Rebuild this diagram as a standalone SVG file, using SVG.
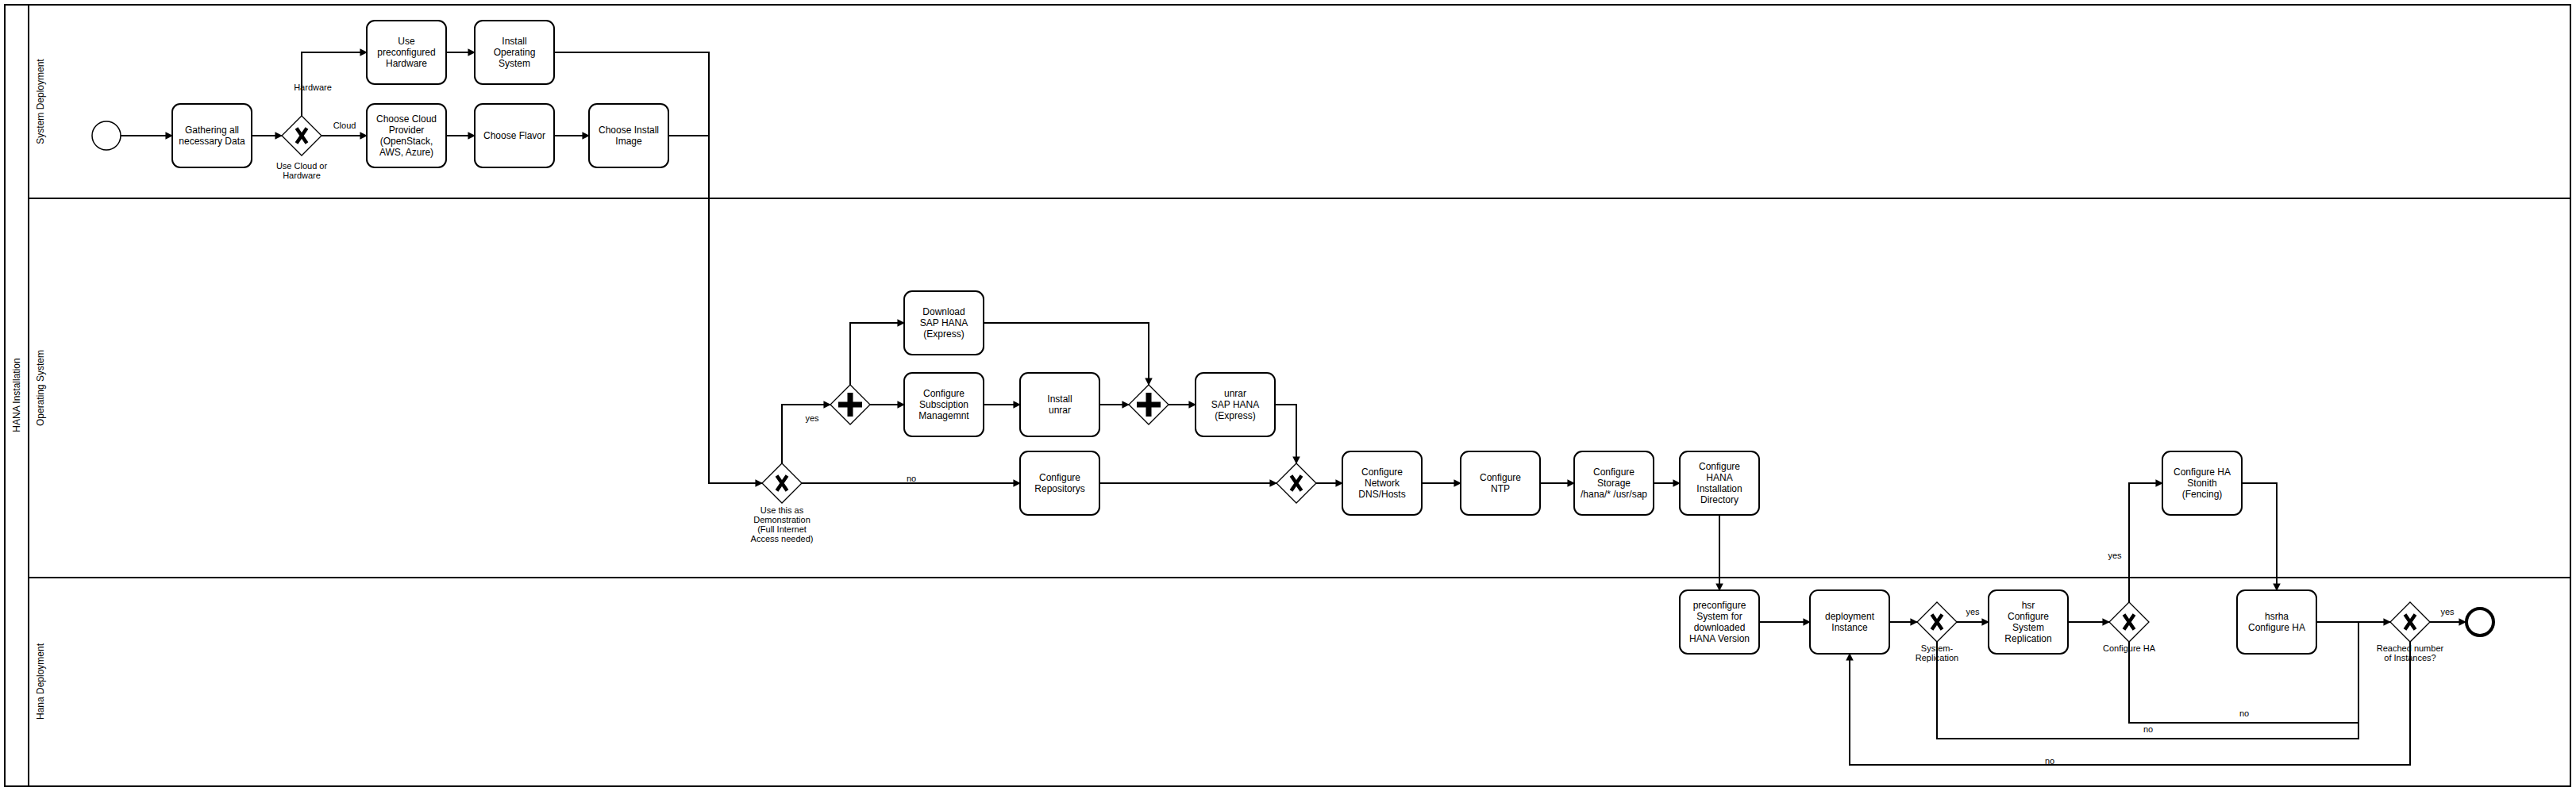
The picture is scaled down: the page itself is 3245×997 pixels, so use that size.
<svg xmlns="http://www.w3.org/2000/svg" width="3245" height="997" viewBox="0 0 3245 997">
<style>
text{font-family:"Liberation Sans",Arial,Helvetica,sans-serif;fill:#000}
.t{font-size:12px;text-anchor:middle}
.l{font-size:11px;text-anchor:middle}
.task{fill:#fff;stroke:#000;stroke-width:2}
.gw{fill:#fff;stroke:#000;stroke-width:1.3}
.edge{fill:none;stroke:#000;stroke-width:2}
.arr{marker-end:url(#arrow)}
.pool{fill:none;stroke:#000;stroke-width:2}
</style>
<defs>
<marker id="arrow" viewBox="0 0 10 10" refX="9" refY="5" markerWidth="10" markerHeight="9.5" markerUnits="userSpaceOnUse" orient="auto">
<path d="M0,0 L10,5 L0,10 z" fill="#000"/>
</marker>
<g id="xmark"><path d="M-6.5,-9.5 L6.5,9.5 M6.5,-9.5 L-6.5,9.5" stroke="#000" stroke-width="4.5" fill="none"/></g>
<g id="plus"><rect x="-15" y="-3.5" width="30" height="7" fill="#000"/><rect x="-3.5" y="-15" width="7" height="30" fill="#000"/></g>
</defs>
<rect width="3245" height="997" fill="#fff"/>

<g id="pool">
<rect class="pool" x="6" y="6" width="3232" height="985"/>
<line class="pool" x1="36" y1="6" x2="36" y2="991"/>
<line class="pool" x1="36" y1="250" x2="3238" y2="250"/>
<line class="pool" x1="36" y1="728" x2="3238" y2="728"/>
<text class="t" transform="translate(21,498) rotate(-90)" y="4">HANA Installation</text>
<text class="t" transform="translate(51,128) rotate(-90)" y="4">System Deployment</text>
<text class="t" transform="translate(51,489) rotate(-90)" y="4">Operating System</text>
<text class="t" transform="translate(51,859) rotate(-90)" y="4">Hana Deployment</text>
</g>

<g id="connectors">
<path class="edge arr" d="M152,171 L217,171"/>
<path class="edge arr" d="M317,171 L355,171"/>
<path class="edge arr" d="M380,146 L380,66 L462,66"/>
<text class="l" x="394" y="114">Hardware</text>
<path class="edge arr" d="M405,171 L462,171"/>
<text class="l" x="434" y="162">Cloud</text>
<path class="edge arr" d="M562,66 L598,66"/>
<path class="edge arr" d="M562,171 L598,171"/>
<path class="edge arr" d="M698,171 L742,171"/>
<path class="edge arr" d="M698,66 L893,66 L893,609 L960,609"/>
<path class="edge" d="M842,171 L893,171"/>
<path class="edge arr" d="M985,584 L985,510 L1046,510"/>
<text class="l" x="1023" y="531">yes</text>
<path class="edge arr" d="M1010,609 L1285,609"/>
<text class="l" x="1148" y="607">no</text>
<path class="edge arr" d="M1071,485 L1071,407 L1139,407"/>
<path class="edge arr" d="M1096,510 L1139,510"/>
<path class="edge arr" d="M1239,510 L1285,510"/>
<path class="edge arr" d="M1385,510 L1422,510"/>
<path class="edge arr" d="M1239,407 L1447,407 L1447,485"/>
<path class="edge arr" d="M1472,510 L1506,510"/>
<path class="edge arr" d="M1606,510 L1633,510 L1633,584"/>
<path class="edge arr" d="M1385,609 L1608,609"/>
<path class="edge arr" d="M1658,609 L1691,609"/>
<path class="edge arr" d="M1791,609 L1840,609"/>
<path class="edge arr" d="M1940,609 L1983,609"/>
<path class="edge arr" d="M2083,609 L2116,609"/>
<path class="edge arr" d="M2166,649 L2166,744"/>
<path class="edge arr" d="M2216,784 L2280,784"/>
<path class="edge arr" d="M2380,784 L2415,784"/>
<path class="edge arr" d="M2465,784 L2505,784"/>
<text class="l" x="2485" y="775">yes</text>
<path class="edge arr" d="M2605,784 L2657,784"/>
<path class="edge arr" d="M2682,759 L2682,609 L2724,609"/>
<text class="l" x="2664" y="704">yes</text>
<path class="edge arr" d="M2824,609 L2868,609 L2868,744"/>
<path class="edge arr" d="M2918,784 L3011,784"/>
<path class="edge" d="M2682,809 L2682,911 L2971,911 L2971,784"/>
<text class="l" x="2827" y="903">no</text>
<path class="edge" d="M2440,809 L2440,931 L2971,931 L2971,784"/>
<text class="l" x="2706" y="923">no</text>
<path class="edge arr" d="M3036,809 L3036,964 L2330,964 L2330,824"/>
<text class="l" x="2582" y="963">no</text>
<path class="edge arr" d="M3061,784 L3106,784"/>
<text class="l" x="3083" y="775">yes</text>
</g>

<g id="start"><circle cx="134" cy="171" r="18" fill="#fff" stroke="#000" stroke-width="1.5"/></g>
<g id="gathering"><rect class="task" x="217" y="131" width="100" height="80" rx="10"/><text class="t" x="267" y="168">Gathering all</text><text class="t" x="267" y="182">necessary Data</text></g>
<g id="gw-cloud"><polygon class="gw" points="380,146 405,171 380,196 355,171"/><use href="#xmark" x="380" y="171"/><text class="l" x="380" y="213">Use Cloud or</text><text class="l" x="380" y="225">Hardware</text></g>
<g id="use-hw"><rect class="task" x="462" y="26" width="100" height="80" rx="10"/><text class="t" x="512" y="56">Use</text><text class="t" x="512" y="70">preconfigured</text><text class="t" x="512" y="84">Hardware</text></g>
<g id="install-os"><rect class="task" x="598" y="26" width="100" height="80" rx="10"/><text class="t" x="648" y="56">Install</text><text class="t" x="648" y="70">Operating</text><text class="t" x="648" y="84">System</text></g>
<g id="cloud-provider"><rect class="task" x="462" y="131" width="100" height="80" rx="10"/><text class="t" x="512" y="154">Choose Cloud</text><text class="t" x="512" y="168">Provider</text><text class="t" x="512" y="182">(OpenStack,</text><text class="t" x="512" y="196">AWS, Azure)</text></g>
<g id="flavor"><rect class="task" x="598" y="131" width="100" height="80" rx="10"/><text class="t" x="648" y="175">Choose Flavor</text></g>
<g id="install-image"><rect class="task" x="742" y="131" width="100" height="80" rx="10"/><text class="t" x="792" y="168">Choose Install</text><text class="t" x="792" y="182">Image</text></g>

<g id="gw-demo"><polygon class="gw" points="985,584 1010,609 985,634 960,609"/><use href="#xmark" x="985" y="609"/><text class="l" x="985" y="647">Use this as</text><text class="l" x="985" y="659">Demonstration</text><text class="l" x="985" y="671">(Full Internet</text><text class="l" x="985" y="683">Access needed)</text></g>
<g id="par1"><polygon class="gw" points="1071,485 1096,510 1071,535 1046,510"/><use href="#plus" x="1071" y="510"/></g>
<g id="download"><rect class="task" x="1139" y="367" width="100" height="80" rx="10"/><text class="t" x="1189" y="397">Download</text><text class="t" x="1189" y="411">SAP HANA</text><text class="t" x="1189" y="425">(Express)</text></g>
<g id="subscription"><rect class="task" x="1139" y="470" width="100" height="80" rx="10"/><text class="t" x="1189" y="500">Configure</text><text class="t" x="1189" y="514">Subsciption</text><text class="t" x="1189" y="528">Managemnt</text></g>
<g id="install-unrar"><rect class="task" x="1285" y="470" width="100" height="80" rx="10"/><text class="t" x="1335" y="507">Install</text><text class="t" x="1335" y="521">unrar</text></g>
<g id="par2"><polygon class="gw" points="1447,485 1472,510 1447,535 1422,510"/><use href="#plus" x="1447" y="510"/></g>
<g id="unrar-hana"><rect class="task" x="1506" y="470" width="100" height="80" rx="10"/><text class="t" x="1556" y="500">unrar</text><text class="t" x="1556" y="514">SAP HANA</text><text class="t" x="1556" y="528">(Express)</text></g>
<g id="repos"><rect class="task" x="1285" y="569" width="100" height="80" rx="10"/><text class="t" x="1335" y="606">Configure</text><text class="t" x="1335" y="620">Repositorys</text></g>
<g id="gw-merge"><polygon class="gw" points="1633,584 1658,609 1633,634 1608,609"/><use href="#xmark" x="1633" y="609"/></g>
<g id="network"><rect class="task" x="1691" y="569" width="100" height="80" rx="10"/><text class="t" x="1741" y="599">Configure</text><text class="t" x="1741" y="613">Network</text><text class="t" x="1741" y="627">DNS/Hosts</text></g>
<g id="ntp"><rect class="task" x="1840" y="569" width="100" height="80" rx="10"/><text class="t" x="1890" y="606">Configure</text><text class="t" x="1890" y="620">NTP</text></g>
<g id="storage"><rect class="task" x="1983" y="569" width="100" height="80" rx="10"/><text class="t" x="2033" y="599">Configure</text><text class="t" x="2033" y="613">Storage</text><text class="t" x="2033" y="627">/hana/* /usr/sap</text></g>
<g id="hana-dir"><rect class="task" x="2116" y="569" width="100" height="80" rx="10"/><text class="t" x="2166" y="592">Configure</text><text class="t" x="2166" y="606">HANA</text><text class="t" x="2166" y="620">Installation</text><text class="t" x="2166" y="634">Directory</text></g>
<g id="stonith"><rect class="task" x="2724" y="569" width="100" height="80" rx="10"/><text class="t" x="2774" y="599">Configure HA</text><text class="t" x="2774" y="613">Stonith</text><text class="t" x="2774" y="627">(Fencing)</text></g>

<g id="preconfigure"><rect class="task" x="2116" y="744" width="100" height="80" rx="10"/><text class="t" x="2166" y="767">preconfigure</text><text class="t" x="2166" y="781">System for</text><text class="t" x="2166" y="795">downloaded</text><text class="t" x="2166" y="809">HANA Version</text></g>
<g id="deployment"><rect class="task" x="2280" y="744" width="100" height="80" rx="10"/><text class="t" x="2330" y="781">deployment</text><text class="t" x="2330" y="795">Instance</text></g>
<g id="gw-sysrep"><polygon class="gw" points="2440,759 2465,784 2440,809 2415,784"/><use href="#xmark" x="2440" y="784"/><text class="l" x="2440" y="821">System-</text><text class="l" x="2440" y="833">Replication</text></g>
<g id="hsr"><rect class="task" x="2505" y="744" width="100" height="80" rx="10"/><text class="t" x="2555" y="767">hsr</text><text class="t" x="2555" y="781">Configure</text><text class="t" x="2555" y="795">System</text><text class="t" x="2555" y="809">Replication</text></g>
<g id="gw-ha"><polygon class="gw" points="2682,759 2707,784 2682,809 2657,784"/><use href="#xmark" x="2682" y="784"/><text class="l" x="2682" y="821">Configure HA</text></g>
<g id="hsrha"><rect class="task" x="2818" y="744" width="100" height="80" rx="10"/><text class="t" x="2868" y="781">hsrha</text><text class="t" x="2868" y="795">Configure HA</text></g>
<g id="gw-reached"><polygon class="gw" points="3036,759 3061,784 3036,809 3011,784"/><use href="#xmark" x="3036" y="784"/><text class="l" x="3036" y="821">Reached number</text><text class="l" x="3036" y="833">of Instances?</text></g>
<g id="end"><circle cx="3124" cy="784" r="17" fill="#fff" stroke="#000" stroke-width="4"/></g>
</svg>
